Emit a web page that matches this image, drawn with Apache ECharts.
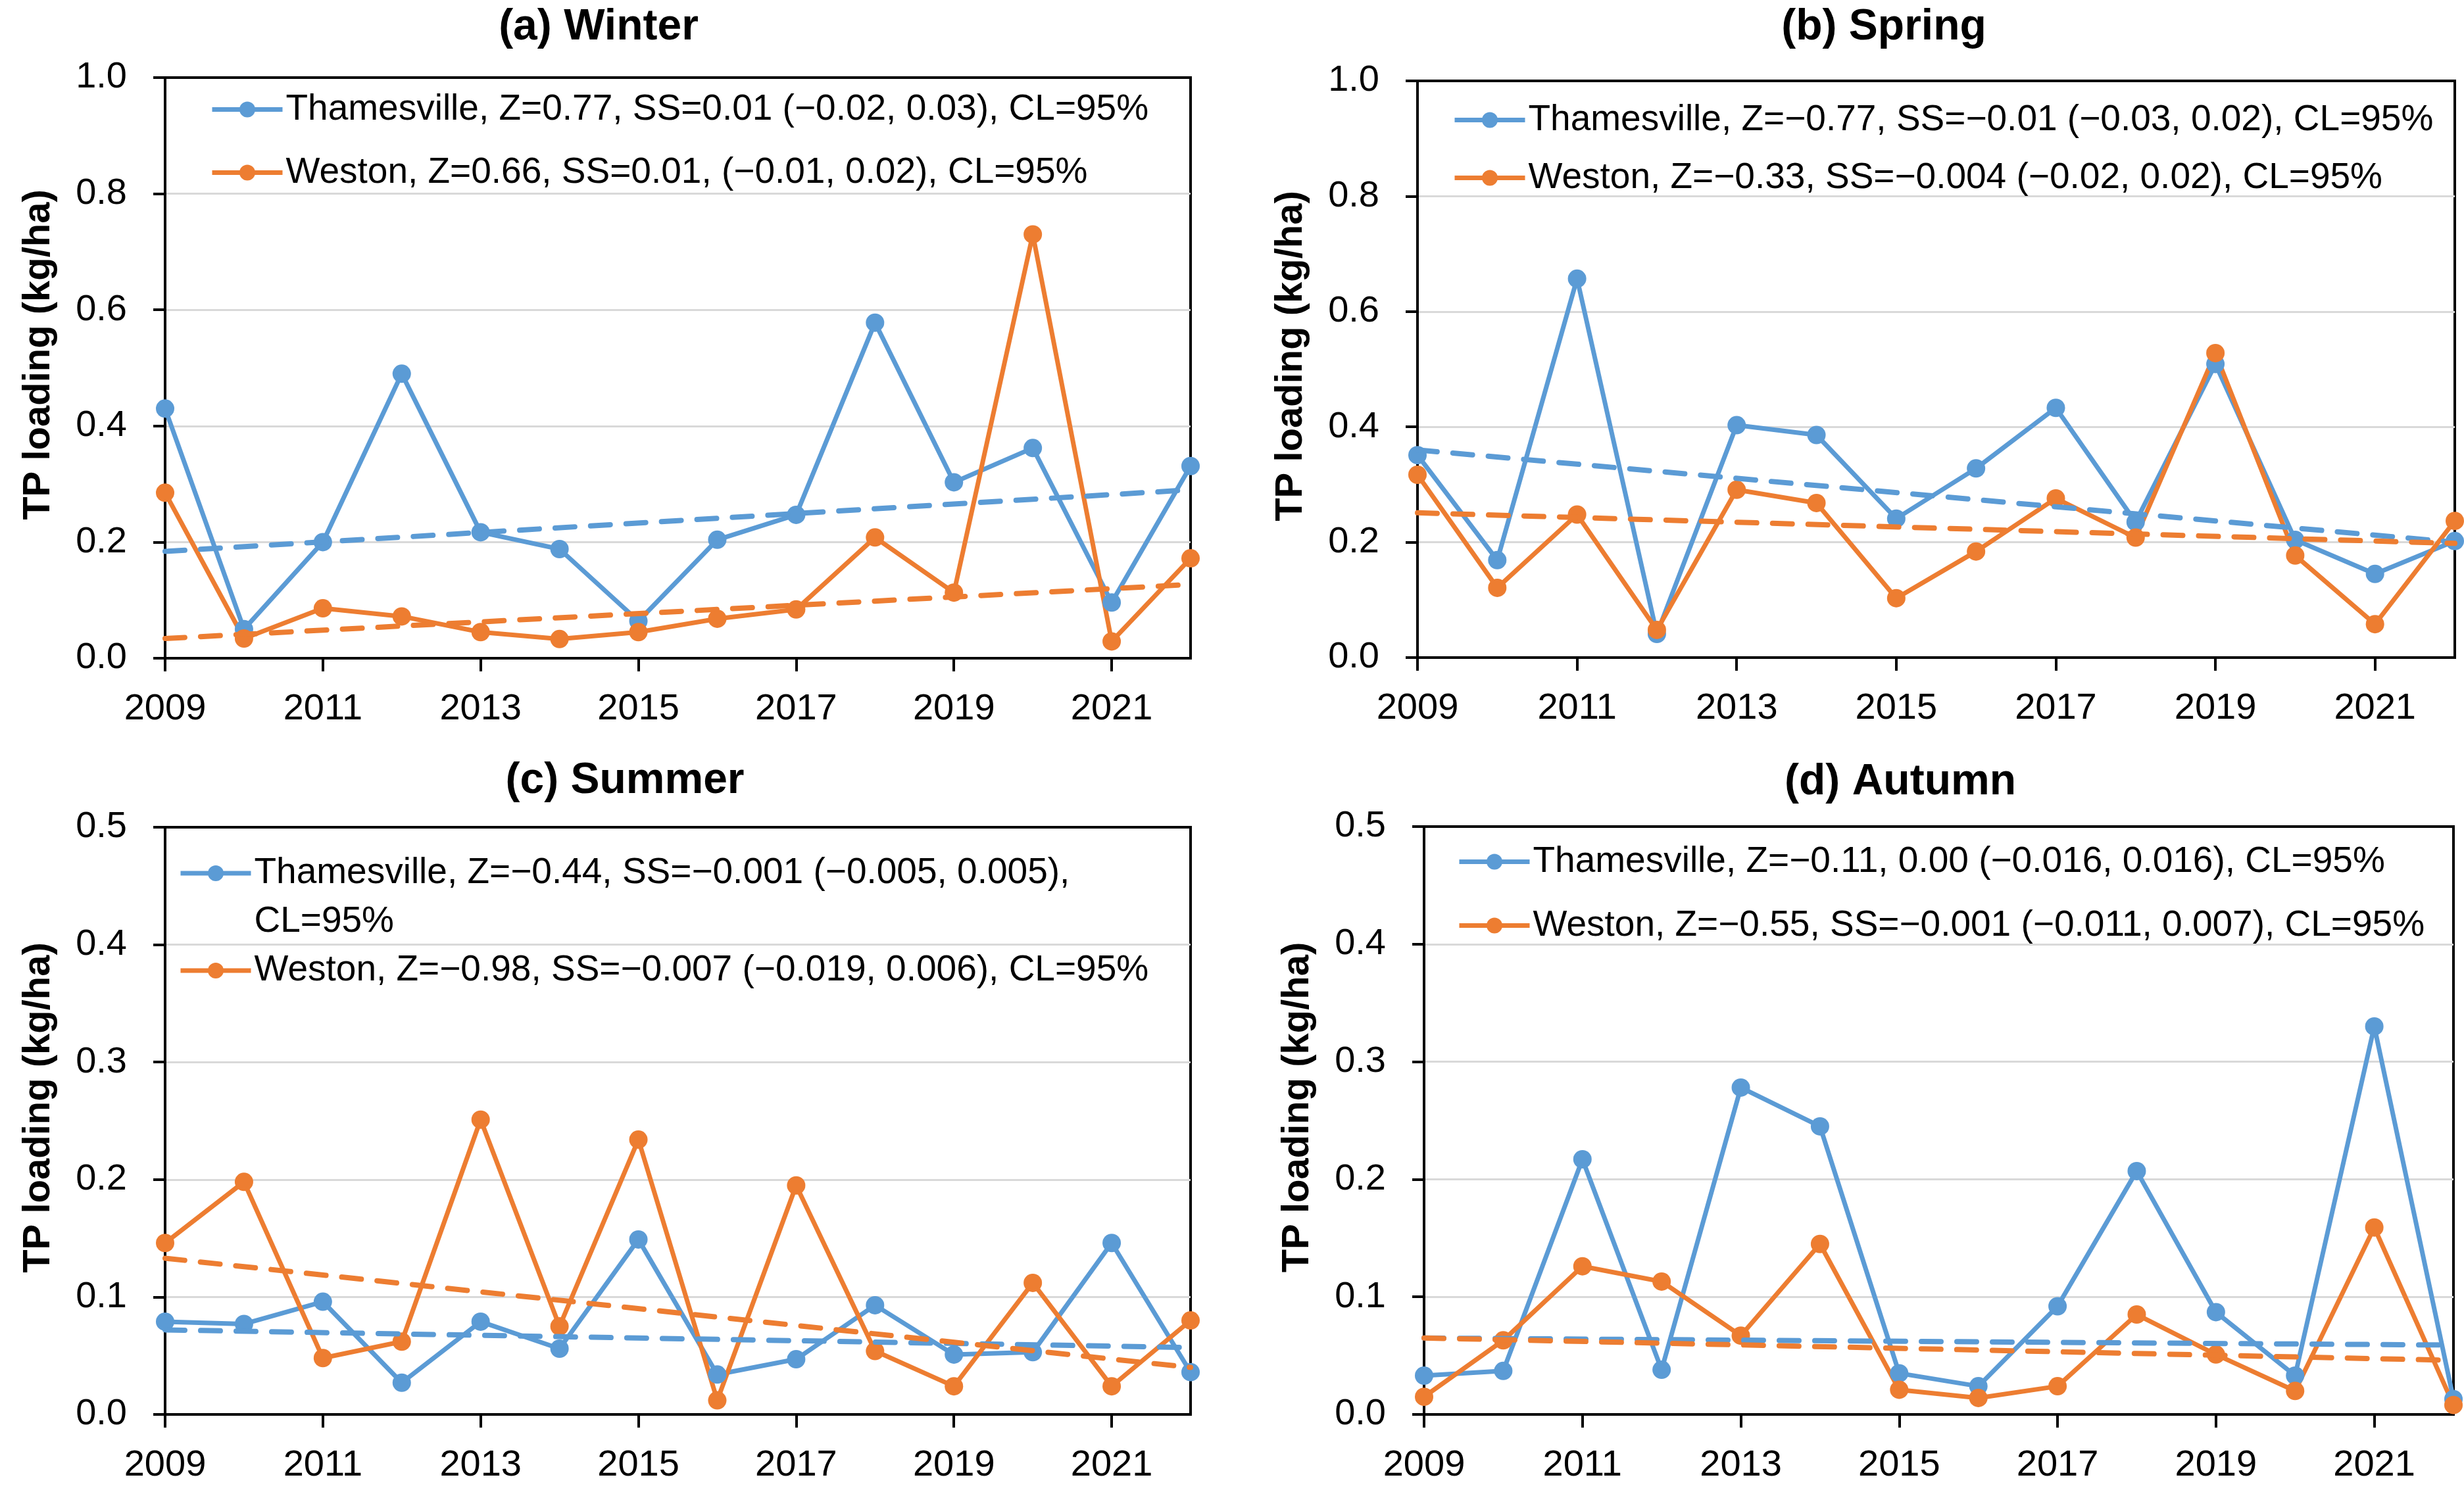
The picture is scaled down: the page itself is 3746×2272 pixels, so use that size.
<!DOCTYPE html>
<html>
<head>
<meta charset="utf-8">
<script src="https://cdn.jsdelivr.net/npm/echarts@6/dist/echarts.min.js"></script>
<style>
    html, body { margin: 0; padding: 0; background: #fff; }
    #chart { width: 3746px; height: 2272px; }
</style>
</head>
<body>
<div id="chart"></div>
<script>
// data (TP loading, kg/ha)
const years = ['2009', '2010', '2011', '2012', '2013', '2014', '2015', '2016', '2017', '2018', '2019', '2020', '2021', '2022'];

const winterThamesville = [0.43, 0.05, 0.20, 0.49, 0.217, 0.188, 0.064, 0.204, 0.247, 0.578, 0.303, 0.362, 0.096, 0.331];
const winterWeston = [0.285, 0.034, 0.086, 0.072, 0.045, 0.033, 0.045, 0.068, 0.084, 0.208, 0.113, 0.730, 0.029, 0.172];
const winterTrendThamesville = [0.184, 0.290];
const winterTrendWeston = [0.034, 0.127];

const springThamesville = [0.351, 0.169, 0.657, 0.041, 0.403, 0.386, 0.241, 0.328, 0.433, 0.235, 0.509, 0.204, 0.145, 0.202];
const springWeston = [0.317, 0.121, 0.248, 0.048, 0.291, 0.268, 0.103, 0.184, 0.276, 0.208, 0.528, 0.177, 0.058, 0.237];
const springTrendThamesville = [0.360, 0.200];
const springTrendWeston = [0.251, 0.198];

const summerThamesville = [0.079, 0.077, 0.096, 0.027, 0.079, 0.056, 0.149, 0.034, 0.047, 0.093, 0.051, 0.053, 0.146, 0.036];
const summerWeston = [0.146, 0.198, 0.048, 0.062, 0.251, 0.075, 0.234, 0.012, 0.195, 0.054, 0.024, 0.112, 0.024, 0.080];
const summerTrendThamesville = [0.072, 0.057];
const summerTrendWeston = [0.133, 0.040];

const autumnThamesville = [0.033, 0.037, 0.217, 0.038, 0.278, 0.245, 0.035, 0.024, 0.092, 0.207, 0.087, 0.033, 0.330, 0.013];
const autumnWeston = [0.015, 0.063, 0.126, 0.113, 0.067, 0.145, 0.021, 0.014, 0.024, 0.085, 0.051, 0.020, 0.159, 0.008];
const autumnTrendThamesville = [0.065, 0.059];
const autumnTrendWeston = [0.065, 0.046];

const panelTitles = ['(a) Winter', '(b) Spring', '(c) Summer', '(d) Autumn'];
const legendThamesville = [
    'Thamesville, Z=0.77, SS=0.01 (\u22120.02, 0.03), CL=95%',
    'Thamesville, Z=\u22120.77, SS=\u22120.01 (\u22120.03, 0.02), CL=95%',
    'Thamesville, Z=\u22120.44, SS=\u22120.001 (\u22120.005, 0.005), CL=95%',
    'Thamesville, Z=\u22120.11, 0.00 (\u22120.016, 0.016), CL=95%'
];
const legendWeston = [
    'Weston, Z=0.66, SS=0.01, (\u22120.01, 0.02), CL=95%',
    'Weston, Z=\u22120.33, SS=\u22120.004 (\u22120.02, 0.02), CL=95%',
    'Weston, Z=\u22120.98, SS=\u22120.007 (\u22120.019, 0.006), CL=95%',
    'Weston, Z=\u22120.55, SS=\u22120.001 (\u22120.011, 0.007), CL=95%'
];
const yAxisMax = [1.0, 1.0, 0.5, 0.5];
const yAxisStep = [0.2, 0.2, 0.1, 0.1];

const seriesThamesville = [winterThamesville, springThamesville, summerThamesville, autumnThamesville];
const seriesWeston = [winterWeston, springWeston, summerWeston, autumnWeston];
const trendThamesville = [winterTrendThamesville, springTrendThamesville, summerTrendThamesville, autumnTrendThamesville];
const trendWeston = [winterTrendWeston, springTrendWeston, summerTrendWeston, autumnTrendWeston];

const BLUE = '#5B9BD5';
const ORANGE = '#ED7D31';
const FONT = '"Liberation Sans", Arial, sans-serif';

// layout of the four panels
const layout = [
    { grid: { left: 251, top: 118, width: 1559, height: 883 }, titleX: 905, titleY: 4, legendLeft: 314, legendTop: 134, legendGap: 41 },
    { grid: { left: 2155, top: 123, width: 1577, height: 877 }, titleX: 2859, titleY: 4, legendLeft: 2203, legendTop: 150, legendGap: 33 },
    { grid: { left: 251, top: 1258, width: 1559, height: 893 }, titleX: 945, titleY: 1150, legendLeft: 266, legendTop: 1212, legendGap: 0 },
    { grid: { left: 2165, top: 1257, width: 1565, height: 894 }, titleX: 2884, titleY: 1152, legendLeft: 2210, legendTop: 1278, legendGap: 42 }
];

function buildOption() {
    const grids = [], xAxes = [], yAxes = [], titles = [], legends = [], series = [];
    for (let i = 0; i < 4; i++) {
        const lay = layout[i];
        grids.push(Object.assign({ show: true, borderColor: '#000', borderWidth: 4, backgroundColor: 'transparent' }, lay.grid));
        titles.push({
            text: panelTitles[i],
            left: lay.titleX,
            top: lay.titleY,
            textAlign: 'center',
            textStyle: { fontSize: 66, fontWeight: 'bold', fontFamily: FONT, color: '#000' }
        });
        xAxes.push({
            type: 'category',
            gridIndex: i,
            data: years,
            boundaryGap: false,
            axisLine: { lineStyle: { color: '#000', width: 4 } },
            axisTick: { interval: 1, length: 20, lineStyle: { color: '#000', width: 4 } },
            axisLabel: { interval: 1, fontSize: 56, fontFamily: FONT, color: '#000', margin: 50 },
            splitLine: { show: false }
        });
        yAxes.push({
            type: 'value',
            gridIndex: i,
            min: 0,
            max: yAxisMax[i],
            interval: yAxisStep[i],
            name: 'TP loading (kg/ha)',
            nameLocation: 'middle',
            nameGap: 163,
            nameTextStyle: { fontSize: 58, fontWeight: 'bold', fontFamily: FONT, color: '#000', padding: [0, 0, 0, 40] },
            axisLine: { show: true, lineStyle: { color: '#000', width: 4 } },
            axisTick: { show: true, length: 18, lineStyle: { color: '#000', width: 4 } },
            axisLabel: {
                fontSize: 56, fontFamily: FONT, color: '#000', margin: 58,
                formatter: function (v) { return v.toFixed(1); }
            },
            splitLine: { showMinLine: false, showMaxLine: false, lineStyle: { color: '#d9d9d9', width: 3 } }
        });

        const legend = {
            orient: 'vertical',
            left: lay.legendLeft,
            top: lay.legendTop,
            itemGap: lay.legendGap,
            itemWidth: 107,
            itemHeight: 30,
            lineStyle: { width: 7 },
            data: [legendThamesville[i], legendWeston[i]],
            textStyle: { fontSize: 55, fontFamily: FONT, color: '#000', lineHeight: 55 }
        };
        if (i === 2) {
            // summer: first entry wraps, its first line stays level with the icon
            legend.textStyle.lineHeight = 74;
            legend.formatter = function (name) {
                return name.indexOf('Thamesville') === 0 ? '\n' + name.replace(' CL=95%', '\nCL=95%') : name;
            };
        }
        legends.push(legend);

        const stations = [
            { name: legendThamesville[i], values: seriesThamesville[i], trend: trendThamesville[i], color: BLUE },
            { name: legendWeston[i], values: seriesWeston[i], trend: trendWeston[i], color: ORANGE }
        ];
        stations.forEach(function (s) {
            series.push({
                name: s.name,
                type: 'line',
                xAxisIndex: i,
                yAxisIndex: i,
                data: s.values,
                color: s.color,
                symbol: 'circle',
                symbolSize: 28,
                clip: false,
                lineStyle: { width: 7, color: s.color },
                itemStyle: { color: s.color },
                z: 3
            });
        });
        stations.forEach(function (s) {
            series.push({
                name: 'trend ' + s.name,
                type: 'line',
                xAxisIndex: i,
                yAxisIndex: i,
                data: [[years[0], s.trend[0]], [years[years.length - 1], s.trend[1]]],
                symbol: 'none',
                silent: true,
                clip: false,
                lineStyle: { width: 8, color: s.color, type: [30, 24], cap: 'round' },
                z: 4
            });
        });
    }
    return {
        animation: false,
        backgroundColor: '#fff',
        title: titles,
        legend: legends,
        grid: grids,
        xAxis: xAxes,
        yAxis: yAxes,
        series: series
    };
}

const myChart = echarts.init(document.getElementById('chart'));
myChart.setOption(buildOption());
window.addEventListener('resize', function () {
    myChart.resize();
});
</script>
</body>
</html>
